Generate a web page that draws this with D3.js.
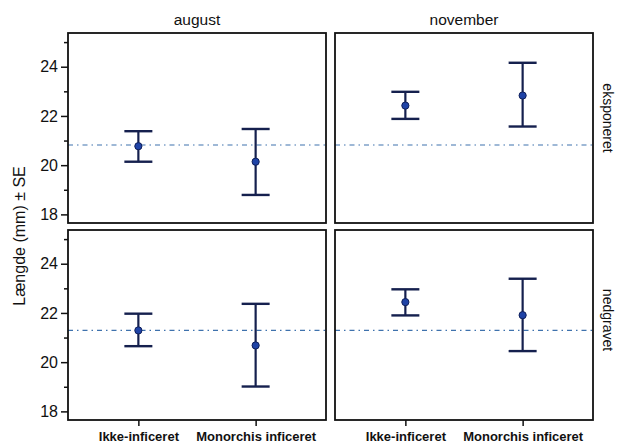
<!DOCTYPE html>
<html>
<head>
<meta charset="utf-8">
<script src="https://cdn.jsdelivr.net/npm/d3@7"></script>
<style>
  html, body { margin: 0; padding: 0; background: #fff; }
  svg { display: block; }
  text { font-family: "Liberation Sans", Arial, sans-serif; fill: #111; }
</style>
</head>
<body>
<svg id="chart" width="620" height="446"></svg>
<script>
// Facets: columns are sampling months, rows are burial treatment
const months = ["august", "november"];
const treatments = ["eksponeret", "nedgravet"];
const groups = ["Ikke-inficeret", "Monorchis inficeret"];

// Mean length (mm) with lower / upper bounds (mean ± SE), per [treatment][month][group]
const means = {
  eksponeret: { august: [20.77, 20.14], november: [22.42, 22.83] },
  nedgravet:  { august: [21.29, 20.68], november: [22.44, 21.91] }
};
const lower = {
  eksponeret: { august: [20.14, 18.79], november: [21.88, 21.57] },
  nedgravet:  { august: [20.65, 19.01], november: [21.90, 20.45] }
};
const upper = {
  eksponeret: { august: [21.38, 21.47], november: [22.98, 24.16] },
  nedgravet:  { august: [21.97, 22.37], november: [22.96, 23.39] }
};
// Overall mean per treatment row (dash-dot reference line)
const rowMeans = { eksponeret: 20.82, nedgravet: 21.29 };

const majorTicks = [18, 20, 22, 24];
const minorTicks = [19, 21, 23, 25];

const svg = d3.select("#chart");

const panelLeft = [68, 335];
const panelW = 258;
const panelTop = [33, 230];
const panelH = 190;

const x = d3.scaleLinear().domain([0.4, 2.6]).range([0, panelW]);
const y = d3.scaleLinear().domain([17.65, 25.37]).range([panelH, 0]);

const navy = "#15204e";
const pointFill = "#1f43a6";
const refColor = "#3f72ad";

treatments.forEach((tr, ri) => {
  months.forEach((mo, ci) => {
    const g = svg.append("g")
      .attr("transform", `translate(${panelLeft[ci]},${panelTop[ri]})`);

    // reference line
    g.append("line")
      .attr("x1", 0).attr("x2", panelW)
      .attr("y1", y(rowMeans[tr])).attr("y2", y(rowMeans[tr]))
      .attr("stroke", refColor)
      .attr("stroke-width", 1.2)
      .attr("stroke-dasharray", "5,4,1.5,4");

    groups.forEach((grp, gi) => {
      const cx = x(gi + 1);
      const lo = lower[tr][mo][gi], hi = upper[tr][mo][gi], m = means[tr][mo][gi];
      const capW = 14;
      g.append("line")
        .attr("x1", cx).attr("x2", cx)
        .attr("y1", y(lo)).attr("y2", y(hi))
        .attr("stroke", navy).attr("stroke-width", 2.2);
      [lo, hi].forEach(v => {
        g.append("line")
          .attr("x1", cx - capW).attr("x2", cx + capW)
          .attr("y1", y(v)).attr("y2", y(v))
          .attr("stroke", navy).attr("stroke-width", 2.4);
      });
      g.append("circle")
        .attr("cx", cx).attr("cy", y(m)).attr("r", 3.6)
        .attr("fill", pointFill)
        .attr("stroke", "#0f1f5a").attr("stroke-width", 1);
    });

    // panel frame
    g.append("rect")
      .attr("x", 0).attr("y", 0)
      .attr("width", panelW).attr("height", panelH)
      .attr("fill", "none")
      .attr("stroke", "#111").attr("stroke-width", 1.8);

    // y axis on left column
    if (ci === 0) {
      const ax = d3.axisLeft(y).tickValues(majorTicks).tickSize(7).tickPadding(3)
        .tickFormat(d3.format("d"));
      const axG = g.append("g").call(ax);
      axG.select(".domain").remove();
      axG.selectAll(".tick line").attr("stroke", "#111").attr("stroke-width", 1.5);
      axG.selectAll(".tick text")
        .style("font-size", "16px")
        .style("font-family", "'Liberation Sans', Arial, sans-serif")
        .attr("fill", "#111");
      const axMinor = d3.axisLeft(y).tickValues(minorTicks).tickSize(4).tickFormat("");
      const mG = g.append("g").call(axMinor);
      mG.select(".domain").remove();
      mG.selectAll(".tick line").attr("stroke", "#111").attr("stroke-width", 1.5);
    }

    // x axis on bottom row
    if (ri === treatments.length - 1) {
      const ax = d3.axisBottom(x).tickValues([1, 2]).tickSize(6).tickPadding(6)
        .tickFormat(d => groups[d - 1]);
      const axG = g.append("g").attr("transform", `translate(0,${panelH})`).call(ax);
      axG.select(".domain").remove();
      axG.selectAll(".tick line").attr("stroke", "#111").attr("stroke-width", 1.5);
      axG.selectAll(".tick text")
        .style("font-size", "13px")
        .style("font-weight", "bold")
        .style("font-family", "'Liberation Sans Narrow', 'Arial Narrow', sans-serif")
        .attr("fill", "#111");
    }

    // column titles
    if (ri === 0) {
      svg.append("text")
        .attr("x", panelLeft[ci] + panelW / 2)
        .attr("y", 25)
        .attr("text-anchor", "middle")
        .style("font-size", "15.5px")
        .text(mo);
    }
  });

  // row strip labels, reading downward
  const ly = ri === 0 ? 118 : 320;
  svg.append("text")
    .attr("transform", `translate(603,${ly}) rotate(90)`)
    .attr("text-anchor", "middle")
    .style("font-size", "14px")
    .text(tr);
});

// y axis title
svg.append("text")
  .attr("transform", "translate(24.5,236) rotate(-90)")
  .attr("text-anchor", "middle")
  .style("font-size", "16px")
  .text("Længde (mm) ± SE");
</script>
</body>
</html>
